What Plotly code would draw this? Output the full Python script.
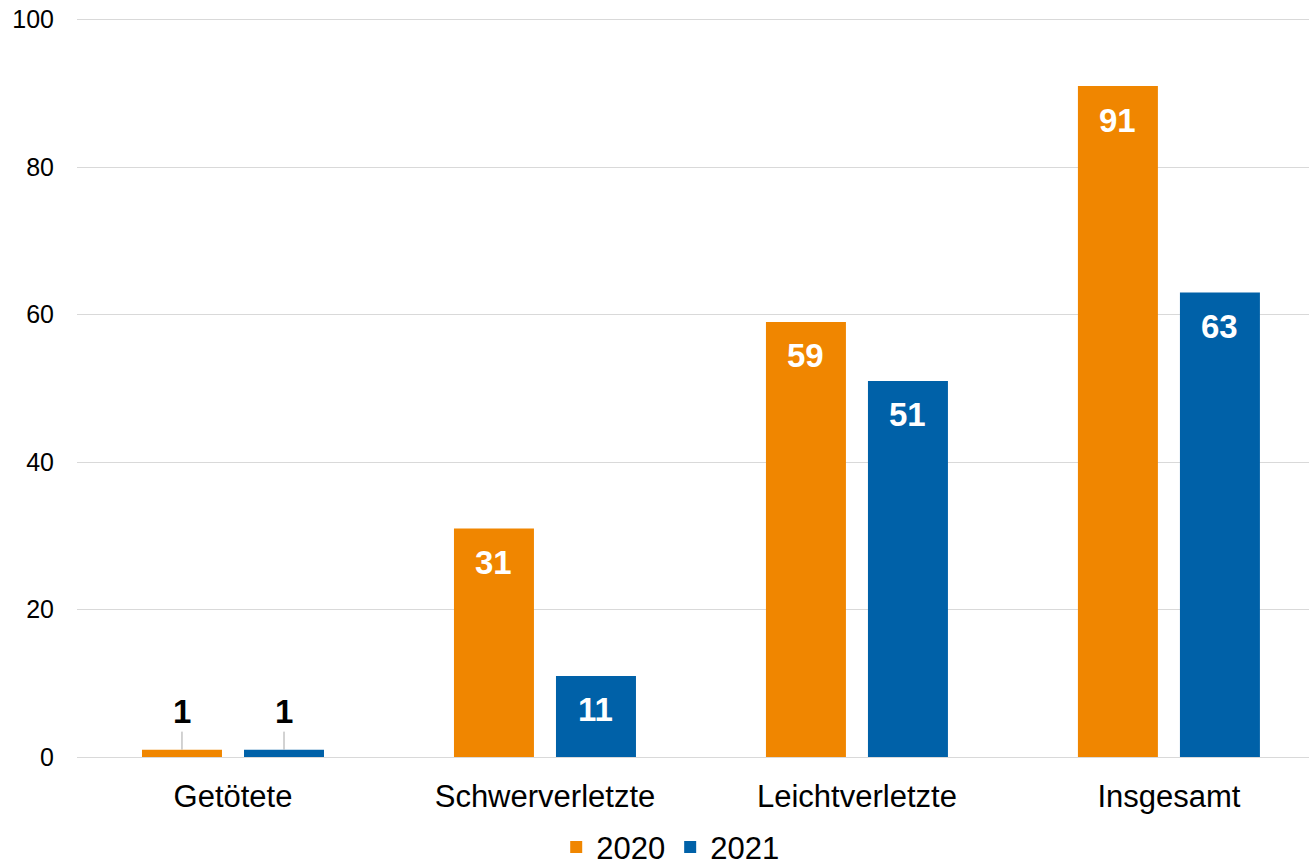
import plotly.graph_objects as go

categories = ["Getötete", "Schwerverletzte", "Leichtverletzte", "Insgesamt"]
series_names = ["2020", "2021"]
values_2020 = [1, 31, 59, 91]
values_2021 = [1, 11, 51, 63]
colors = ["#F08600", "#0061A8"]
y_ticks = [0, 20, 40, 60, 80, 100]

FONT = "Arial, Liberation Sans, sans-serif"
BARGAP = 0.346
SMALL_LIMIT = 5

fig = go.Figure()
for name, vals, col in zip(series_names, [values_2020, values_2021], colors):
    fig.add_trace(go.Bar(name=name, x=categories, y=vals, marker=dict(color=col, line=dict(width=0))))

# Data labels
slot = (1 - BARGAP) / 2
offsets = [-slot / 2, slot / 2]
for s, vals in enumerate([values_2020, values_2021]):
    for i, v in enumerate(vals):
        xpos = i + offsets[s]
        if v >= SMALL_LIMIT:
            fig.add_annotation(x=xpos, y=v, xref="x", yref="y", text=f"<b>{v}</b>",
                               showarrow=False, yshift=-34,
                               font=dict(family=FONT, size=33, color="white"))
        else:
            fig.add_annotation(x=xpos, y=v, xref="x", yref="y", text=f"<b>{v}</b>",
                               showarrow=True, arrowhead=0, arrowwidth=1, arrowcolor="#A6A6A6",
                               ax=0, ay=-38, standoff=0,
                               font=dict(family=FONT, size=33, color="black"))

fig.update_layout(
    barmode="group",
    bargap=BARGAP,
    bargroupgap=0.216,
    width=1309, height=867,
    margin=dict(l=77, r=0, t=16, b=110, autoexpand=False),
    plot_bgcolor="white", paper_bgcolor="white",
    font=dict(family=FONT, color="black"),
    legend=dict(orientation="h", x=0.4815, xanchor="center", y=-0.122, yanchor="middle",
                font=dict(family=FONT, size=31, color="black"), itemwidth=30),
    showlegend=True,
)
fig.update_xaxes(range=[-0.5, 3.449], showgrid=False, showline=False, ticks="", automargin=False,
                 tickfont=dict(family=FONT, size=31, color="black"), ticklabelstandoff=18)
fig.update_yaxes(range=[0, 100.5], tickvals=y_ticks, showgrid=True, gridcolor="#D9D9D9", gridwidth=1,
                 zeroline=True, zerolinecolor="#D9D9D9", zerolinewidth=1, showline=False, ticks="",
                 automargin=False, ticklabeloverflow="allow",
                 tickfont=dict(family=FONT, size=25, color="black"), ticklabelstandoff=22)

fig.write_html("out.html", config={"displayModeBar": False},
               post_script="document.body.style.margin='0';")
